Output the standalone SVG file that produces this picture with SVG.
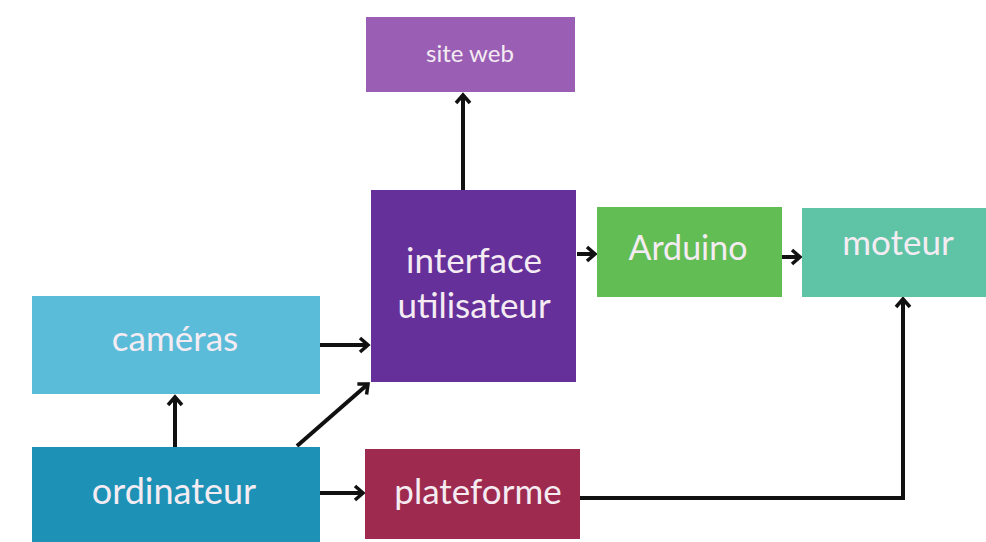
<svg xmlns="http://www.w3.org/2000/svg" width="986" height="542" viewBox="0 0 986 542">
<style>
  .lbl { font-family: Lato, "Open Sans", "Liberation Sans", sans-serif; fill: #f4ecf2; text-anchor: middle; }
  .conn { fill: none; stroke: #111; stroke-width: 4; }
</style>
<defs>
  <marker id="ah" markerUnits="userSpaceOnUse" markerWidth="20" markerHeight="20" refX="10" refY="10" orient="auto" viewBox="0 0 20 20">
    <path d="M2,3 L10,10 L2,17" fill="none" stroke="#111" stroke-width="3.5" stroke-linejoin="miter"/>
  </marker>
</defs>
<rect width="986" height="542" fill="#ffffff"/>
<g id="connectors">
  <line class="conn" x1="463" y1="190" x2="463" y2="95" marker-end="url(#ah)"/>
  <line class="conn" x1="577" y1="254" x2="595" y2="254" marker-end="url(#ah)"/>
  <line class="conn" x1="782" y1="257" x2="800" y2="257" marker-end="url(#ah)"/>
  <line class="conn" x1="320" y1="345" x2="368" y2="345" marker-end="url(#ah)"/>
  <line class="conn" x1="175" y1="447" x2="175" y2="397" marker-end="url(#ah)"/>
  <line class="conn" x1="297" y1="446" x2="368" y2="384" marker-end="url(#ah)"/>
  <line class="conn" x1="320" y1="493" x2="363" y2="493" marker-end="url(#ah)"/>
  <polyline class="conn" points="580,498 903,498 903,299" marker-end="url(#ah)"/>
</g>
<g id="site-web">
  <rect x="366" y="17" width="209" height="75" fill="#9a5fb5"/>
  <text class="lbl" x="470" y="62" font-size="24">site web</text>
</g>
<g id="interface-utilisateur">
  <rect x="371" y="190" width="205" height="192" fill="#66309a"/>
  <text class="lbl" x="474" y="273" font-size="35">interface</text>
  <text class="lbl" x="474" y="318" font-size="35">utilisateur</text>
</g>
<g id="arduino">
  <rect x="597" y="207" width="185" height="90" fill="#63bd55"/>
  <text class="lbl" x="688" y="260" font-size="34">Arduino</text>
</g>
<g id="moteur">
  <rect x="802" y="208" width="184" height="89" fill="#5fc4a6"/>
  <text class="lbl" x="898" y="255" font-size="35">moteur</text>
</g>
<g id="cameras">
  <rect x="32" y="296" width="288" height="98" fill="#5bbcd9"/>
  <text class="lbl" x="175" y="351" font-size="35">caméras</text>
</g>
<g id="ordinateur">
  <rect x="32" y="447" width="288" height="95" fill="#1e92b6"/>
  <text class="lbl" x="174" y="504" font-size="36">ordinateur</text>
</g>
<g id="plateforme">
  <rect x="365" y="449" width="215" height="90" fill="#9e2a50"/>
  <text class="lbl" x="478" y="504" font-size="35">plateforme</text>
</g>
</svg>
